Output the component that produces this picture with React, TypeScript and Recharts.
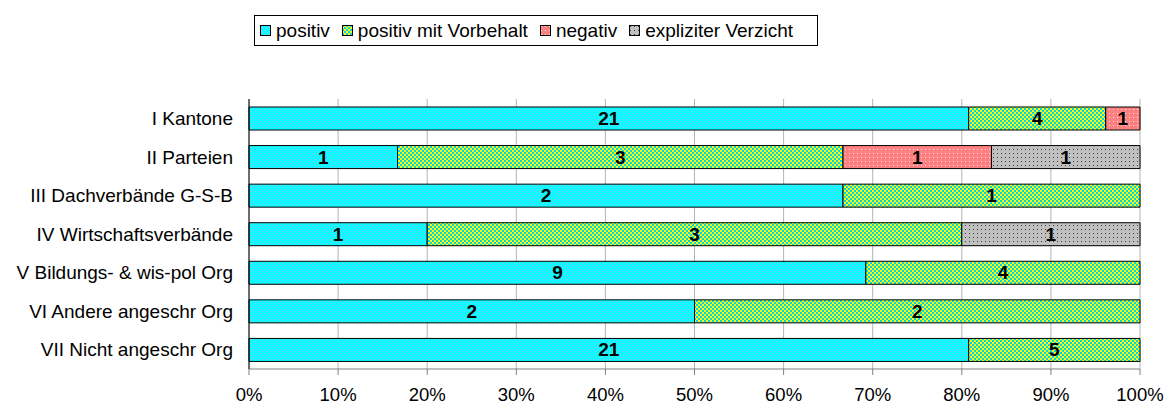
import { BarChart, Bar, XAxis, YAxis, CartesianGrid, LabelList } from "recharts"

const categories = [
  "I Kantone",
  "II Parteien",
  "III Dachverbände G-S-B",
  "IV Wirtschaftsverbände",
  "V Bildungs- & wis-pol Org",
  "VI Andere angeschr Org",
  "VII Nicht angeschr Org",
]
const positiv = [21, 1, 2, 1, 9, 2, 21]
const positivVorbehalt = [4, 3, 1, 3, 4, 2, 5]
const negativ = [1, 1, 0, 0, 0, 0, 0]
const verzicht = [0, 1, 0, 1, 0, 0, 0]
const xTicks = [0, 0.1, 0.2, 0.3, 0.4, 0.5, 0.6, 0.7, 0.8, 0.9, 1]

const series = [
  { key: "positiv", name: "positiv", fill: "url(#patCyan)" },
  { key: "vorbehalt", name: "positiv mit Vorbehalt", fill: "url(#patGreen)" },
  { key: "negativ", name: "negativ", fill: "url(#patRed)" },
  { key: "verzicht", name: "expliziter Verzicht", fill: "url(#patGray)" },
]

const data = categories.map((name, i) => ({
  name,
  positiv: positiv[i],
  vorbehalt: positivVorbehalt[i],
  negativ: negativ[i],
  verzicht: verzicht[i],
}))

const font = "'Liberation Sans', Arial, sans-serif"

function Patterns() {
  return (
    <svg width={0} height={0} style={{ position: "absolute" }}>
      <defs>
        <pattern id="patCyan" width={4} height={4} patternUnits="userSpaceOnUse">
          <rect width={4} height={4} fill="#00FFFF" />
          <rect x={1} y={1} width={1} height={1} fill="#C0A8F0" />
          <rect x={3} y={3} width={1} height={1} fill="#C0A8F0" />
        </pattern>
        <pattern id="patGreen" width={4} height={4} patternUnits="userSpaceOnUse">
          <rect width={4} height={4} fill="#FFFF00" />
          <rect x={0} y={0} width={2} height={2} fill="#00D8E8" />
          <rect x={2} y={2} width={2} height={2} fill="#00D8E8" />
        </pattern>
        <pattern id="patRed" width={4} height={4} patternUnits="userSpaceOnUse">
          <rect width={4} height={4} fill="#FF8080" />
          <rect x={1} y={1} width={1} height={1} fill="#FFE0E0" />
        </pattern>
        <pattern id="patGray" width={4} height={4} patternUnits="userSpaceOnUse">
          <rect width={4} height={4} fill="#C0C0C0" />
          <rect x={1} y={1} width={1} height={1} fill="#404040" />
        </pattern>
      </defs>
    </svg>
  )
}

function LegendBox() {
  return (
    <div
      style={{
        position: "absolute",
        left: 254,
        top: 15,
        width: 564,
        height: 31,
        border: "1px solid #000",
        display: "flex",
        alignItems: "center",
        padding: "0 5px",
        fontFamily: font,
        fontSize: 19,
        color: "#000",
        boxSizing: "border-box",
        background: "#fff",
      }}
    >
      {series.map((s) => (
        <div key={s.key} style={{ display: "flex", alignItems: "center", marginRight: 12 }}>
          <svg width={11} height={11} style={{ marginRight: 5 }}>
            <rect x={0.5} y={0.5} width={10} height={10} fill={s.fill} stroke="#000" />
          </svg>
          <span>{s.name}</span>
        </div>
      ))}
    </div>
  )
}

const renderLabel = (props: any) => {
  const { x, y, width, height, value } = props
  if (!value) return null
  return (
    <text
      x={x + width / 2}
      y={y + height / 2}
      textAnchor="middle"
      dominantBaseline="central"
      fontFamily={font}
      fontSize={19}
      fontWeight="bold"
      fill="#000"
    >
      {value}
    </text>
  )
}

export default function App() {
  return (
    <div style={{ position: "absolute", left: 0, top: 0, width: 1168, height: 406, background: "#fff" }}>
      <Patterns />
      <BarChart
        width={1168}
        height={406}
        data={data}
        layout="vertical"
        stackOffset="expand"
        barSize={23}
        margin={{ top: 99, right: 28, left: 0, bottom: 0 }}
      >
        <CartesianGrid horizontal={false} stroke="#B4B4B4" />
        <XAxis
          type="number"
          domain={[0, 1]}
          ticks={xTicks}
          tickFormatter={(v) => `${Math.round(v * 100)}%`}
          tick={{ fontSize: 18.5, fill: "#000", fontFamily: font }}
          stroke="#808080"
          tickSize={6}
          tickMargin={13}
          height={37}
        />
        <YAxis
          type="category"
          dataKey="name"
          width={249}
          tick={{ fontSize: 19, fill: "#000", fontFamily: font }}
          stroke="#000"
          tickLine={false}
          tickMargin={10}
        />
        {series.map((s) => (
          <Bar
            key={s.key}
            dataKey={s.key}
            name={s.name}
            stackId="a"
            fill={s.fill}
            stroke="#000"
            strokeWidth={1}
            isAnimationActive={false}
          >
            <LabelList dataKey={s.key} content={renderLabel} />
          </Bar>
        ))}
      </BarChart>
      <LegendBox />
    </div>
  )
}
